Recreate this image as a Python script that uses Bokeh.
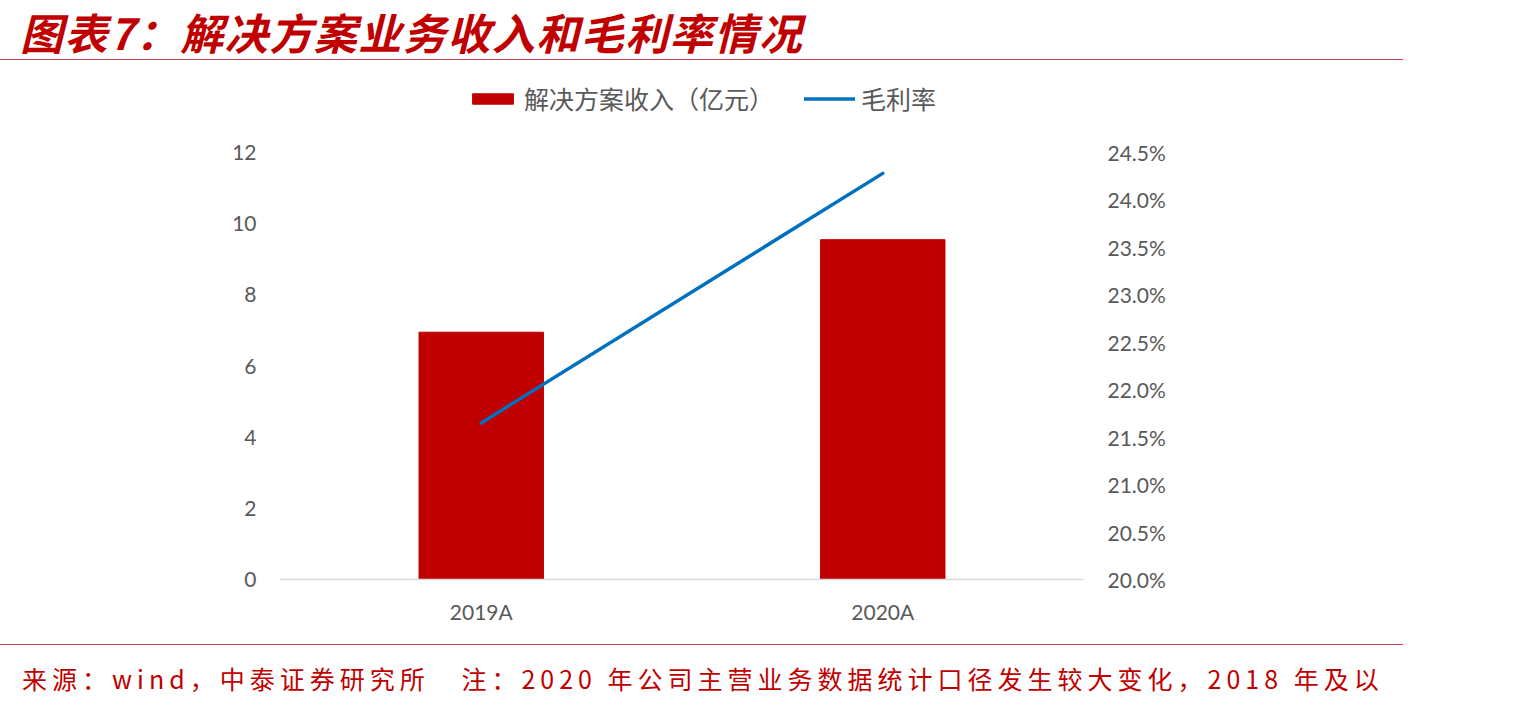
from bokeh.plotting import figure
from bokeh.models import (FactorRange, Range1d, LinearAxis, FixedTicker, PrintfTickFormatter,
                          Legend, LegendItem, Div)
from bokeh.layouts import column
from bokeh.embed import file_html
from bokeh.resources import INLINE

# ---- data ----
years = ["2019A", "2020A"]
revenue = [6.95, 9.55]          # 解决方案收入（亿元）
margin = [21.65, 24.28]         # 毛利率 (%)
left_ticks = [0, 2, 4, 6, 8, 10, 12]
right_ticks = [20.0, 20.5, 21.0, 21.5, 22.0, 22.5, 23.0, 23.5, 24.0, 24.5]

title_text = "图表7：解决方案业务收入和毛利率情况"
footer_text = "来源：wind，中泰证券研究所&nbsp;&nbsp;&nbsp;注：2020 年公司主营业务数据统计口径发生较大变化，2018 年及以"
bar_label = "解决方案收入（亿元）"
line_label = "毛利率"

GRAY = "#595959"
TICK_FONT = "Lato"
CJK = "Noto Sans CJK SC"

FIG_W, FIG_H = 1400, 580
FRAME_L, FRAME_R, FRAME_T, FRAME_B = 280, 1083, 20, 519
frame_h = FRAME_B - FRAME_T
px_per_unit = 427 / 12.0
px_per_pct = 427 / 4.5

p = figure(width=FIG_W, height=FIG_H, x_range=FactorRange(*years),
           y_range=Range1d(0, frame_h / px_per_unit),
           output_backend="svg", toolbar_location=None,
           min_border_left=FRAME_L, min_border_right=FIG_W - FRAME_R,
           min_border_top=FRAME_T, min_border_bottom=FIG_H - FRAME_B)
p.outline_line_color = None
p.grid.visible = False
p.background_fill_color = "white"
p.border_fill_color = "white"

p.extra_y_ranges = {"pct": Range1d(20.0, 20.0 + frame_h / px_per_pct)}

bars = p.vbar(x=years, top=revenue, width=0.31, color="#C00000", line_color="#C00000")
ln = p.line(x=years, y=margin, y_range_name="pct", line_color="#0070C0", line_width=3.5,
            line_cap="round")

# left axis
ya = p.yaxis[0]
ya.ticker = FixedTicker(ticks=left_ticks)
ya.axis_line_color = None
ya.major_tick_line_color = None
ya.minor_tick_line_color = None
ya.major_label_text_font = TICK_FONT
ya.major_label_text_font_size = "21px"
ya.major_label_text_color = GRAY
ya.major_label_standoff = 18

# right axis
ra = LinearAxis(y_range_name="pct", ticker=FixedTicker(ticks=right_ticks),
                formatter=PrintfTickFormatter(format="%.1f%%"))
ra.axis_line_color = None
ra.major_tick_line_color = None
ra.minor_tick_line_color = None
ra.major_label_text_font = TICK_FONT
ra.major_label_text_font_size = "21px"
ra.major_label_text_color = GRAY
ra.major_label_standoff = 18
p.add_layout(ra, "right")

# bottom axis
xa = p.xaxis[0]
xa.axis_line_color = "#D9D9D9"
xa.axis_line_width = 1.5
xa.major_tick_line_color = None
xa.minor_tick_line_color = None
xa.major_label_text_font = TICK_FONT
xa.major_label_text_font_size = "21px"
xa.major_label_text_color = GRAY
xa.major_label_standoff = 13

legend = Legend(items=[LegendItem(label=bar_label, renderers=[bars]),
                       LegendItem(label=line_label, renderers=[ln])],
                orientation="horizontal", location=(187, frame_h - 36),
                glyph_width=51, glyph_height=13, label_standoff=6, spacing=30,
                padding=0, margin=0, border_line_color=None, background_fill_alpha=0,
                label_text_font=CJK, label_text_font_size="25px", label_text_color=GRAY)
p.add_layout(legend, "center")

title = Div(text=(
    '<div style="width:1403px;height:60px;box-sizing:border-box;border-bottom:1.5px solid #C84848;'
    'padding-top:8px;padding-left:20px;font-family:\'Noto Sans CJK SC\';font-weight:bold;font-style:italic;'
    'font-size:43px;line-height:47px;letter-spacing:1.5px;color:#C00000;white-space:nowrap;">'
    + title_text + '</div>'),
    width=1405, height=60, margin=0)

footer = Div(text=(
    '<div style="width:1403px;height:64px;box-sizing:border-box;border-top:1.5px solid #C84848;'
    'margin-top:4px;padding-top:16px;padding-left:22px;font-family:\'Noto Sans CJK SC\';'
    'font-size:25px;line-height:34px;letter-spacing:5px;color:#C00000;white-space:nowrap;">'
    + footer_text + '</div>'),
    width=1405, height=69, margin=0)

layout = column(title, p, footer, spacing=0)
open("out.html", "w").write(file_html(layout, INLINE))
